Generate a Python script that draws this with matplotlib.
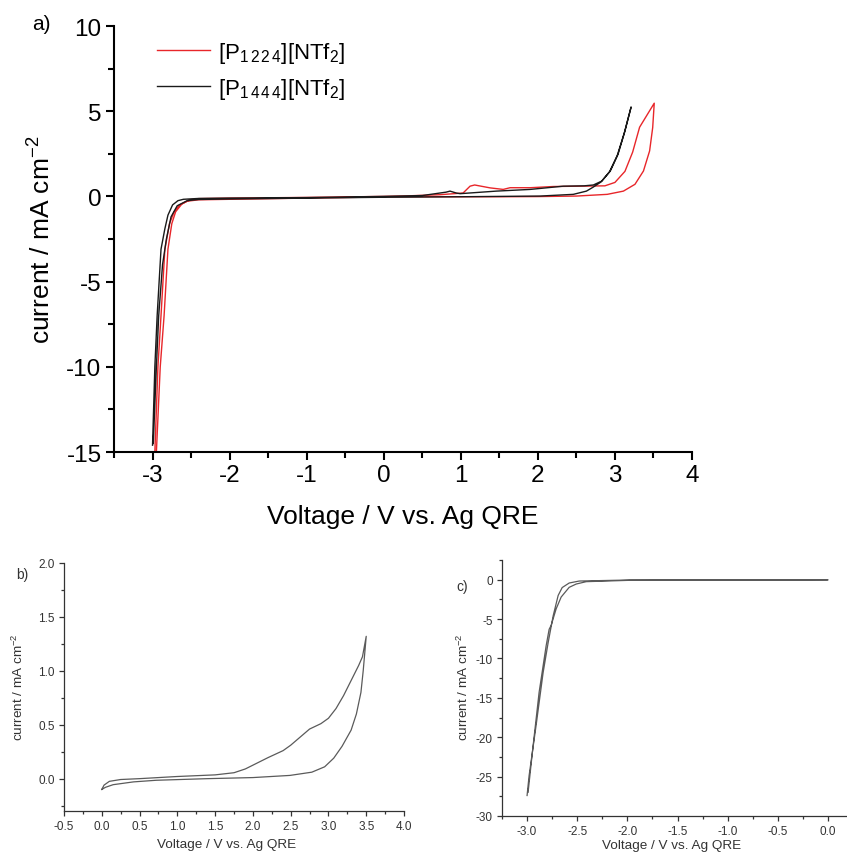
import matplotlib
matplotlib.use("Agg")
import matplotlib.pyplot as plt
from matplotlib.ticker import MultipleLocator, FormatStrFormatter

plt.rcParams['font.family'] = ['Liberation Sans', 'DejaVu Sans']
plt.rcParams['mathtext.fontset'] = 'custom'
plt.rcParams['mathtext.rm'] = 'Liberation Sans'
plt.rcParams['mathtext.it'] = 'Liberation Sans:italic'
plt.rcParams['mathtext.bf'] = 'Liberation Sans:bold'
plt.rcParams['mathtext.default'] = 'regular'
plt.rcParams['axes.unicode_minus'] = False

# ---------------- data: panel a ----------------
red_label = r'[P$_{1\,2\,2\,4}$][NTf$_2$]'
black_label = r'[P$_{1\,4\,4\,4}$][NTf$_2$]'

red_v = [-2.97, -2.93, -2.89, -2.84, -2.78, -2.72, -2.65, -2.55, -2.4, -2.0, -1.0, 0.0, 0.5,
         1.0, 1.5, 2.0, 2.5, 2.9, 3.11, 3.26, 3.37, 3.45, 3.49, 3.51,
         3.32, 3.23, 3.13, 3.0, 2.87, 2.55, 2.2, 1.9, 1.64, 1.55, 1.38, 1.18, 1.12, 1.03,
         0.73, 0.3, 0.0, -1.0, -2.0, -2.4, -2.52, -2.62, -2.7, -2.75, -2.8, -2.85, -2.9, -2.95]
red_i = [-15.0, -10.0, -7.0, -3.1, -1.6, -0.9, -0.5, -0.28, -0.2, -0.17, -0.1, -0.03, -0.02,
         -0.02, -0.02, -0.01, 0.02, 0.12, 0.31, 0.71, 1.49, 2.67, 4.04, 5.47,
         4.06, 2.6, 1.47, 0.82, 0.62, 0.6, 0.58, 0.51, 0.51, 0.41, 0.5, 0.67, 0.6, 0.2,
         0.1, 0.03, 0.0, -0.06, -0.1, -0.13, -0.2, -0.45, -0.9, -1.6, -3.1, -7.0, -10.0, -15.0]

black_v = [-3.0, -2.97, -2.94, -2.89, -2.84, -2.8, -2.74, -2.67, -2.6, -2.4, -2.0, -1.0, 0.0,
           0.5, 0.81, 0.86, 0.94, 0.99, 1.46, 1.9, 2.33, 2.6, 2.72, 2.83, 2.94, 3.04, 3.13,
           3.21, 3.12, 3.03, 2.93, 2.82, 2.72, 2.63, 2.46, 2.03, 1.5, 1.0, 0.0, -1.0, -2.0,
           -2.4, -2.55, -2.68, -2.76, -2.82, -2.87, -2.92, -2.95, -2.99]
black_i = [-14.6, -10.0, -7.0, -3.1, -1.9, -1.1, -0.5, -0.25, -0.17, -0.12, -0.1, -0.07, 0.0,
           0.05, 0.25, 0.31, 0.2, 0.16, 0.31, 0.41, 0.6, 0.62, 0.67, 0.9, 1.49, 2.47, 3.84,
           5.25, 3.7, 2.4, 1.45, 0.85, 0.55, 0.31, 0.12, 0.02, 0.0, -0.02, -0.05, -0.1, -0.15,
           -0.18, -0.25, -0.55, -1.2, -2.5, -4.0, -7.0, -10.0, -14.5]

# ---------------- data: panel b ----------------
b_v = [0.0, 0.03, 0.1, 0.25, 0.5, 1.0, 1.5, 1.75, 1.9, 2.0, 2.2, 2.4, 2.5, 2.6, 2.75, 2.9,
       3.0, 3.1, 3.2, 3.3, 3.4, 3.45, 3.5,
       3.46, 3.43, 3.37, 3.3, 3.18, 3.07, 2.95, 2.78, 2.49, 2.0, 1.4, 0.72, 0.42, 0.15, 0.05, 0.0]
b_i = [-0.1, -0.06, -0.025, -0.008, 0.0, 0.02, 0.035, 0.055, 0.09, 0.125, 0.195, 0.26, 0.31,
       0.37, 0.46, 0.51, 0.56, 0.65, 0.77, 0.91, 1.05, 1.13, 1.32,
       1.0, 0.8, 0.6, 0.45, 0.3, 0.19, 0.11, 0.06, 0.03, 0.01, 0.0, -0.015, -0.03, -0.056,
       -0.08, -0.1]

# ---------------- data: panel c ----------------
c_v = [-3.0, -2.98, -2.91, -2.84, -2.79, -2.74, -2.69, -2.65, -2.58, -2.48, -1.98, 0.0,
       -0.0, -1.98, -2.41, -2.51, -2.58, -2.66, -2.71, -2.76, -2.78, -2.81, -2.88, -2.94, -2.99]
c_i = [-27.4, -24.9, -18.5, -11.8, -8.0, -4.6, -2.0, -1.0, -0.42, -0.17, -0.04, 0.0,
       -0.04, -0.08, -0.25, -0.55, -0.97, -2.2, -3.7, -5.8, -6.3, -8.4, -14.3, -21.1, -27.0]

a_xticks = [-3, -2, -1, 0, 1, 2, 3, 4]
a_yticks = [-15, -10, -5, 0, 5, 10]

xlabel = 'Voltage / V vs. Ag QRE'
ylabel = r'current / mA cm$^{-2}$'

W, H = 847, 854
fig = plt.figure(figsize=(W / 100, H / 100), dpi=100)


def add_axes(l, t, r, b):
    return fig.add_axes([l / W, 1 - b / H, (r - l) / W, (b - t) / H])


def style(ax, lw, major_len, minor_len, fs, color):
    for s in ['top', 'right']:
        ax.spines[s].set_visible(False)
    for s in ['left', 'bottom']:
        ax.spines[s].set_linewidth(lw)
        ax.spines[s].set_color(color)
    ax.tick_params(which='major', direction='out', length=major_len, width=lw,
                   labelsize=fs, colors=color, pad=3)
    ax.tick_params(which='minor', direction='out', length=minor_len, width=lw, colors=color)


# ---------------- panel a ----------------
axa = add_axes(114, 27, 692, 453)
axa.plot(red_v, red_i, color='#e8262a', lw=1.0, label=red_label)
axa.plot(black_v, black_i, color='#1a1a1a', lw=1.0, label=black_label)
axa.set_xlim(-3.5, 4)
axa.set_ylim(-15, 10)
axa.set_xticks(a_xticks)
axa.set_yticks(a_yticks)
axa.xaxis.set_minor_locator(MultipleLocator(0.5))
axa.yaxis.set_minor_locator(MultipleLocator(2.5))
style(axa, 1.5, 6, 4, 17.5, 'black')
leg = axa.legend(loc='upper left', bbox_to_anchor=(157 / W, 1 - 41 / H),
                 bbox_transform=fig.transFigure, frameon=False, fontsize=16,
                 handlelength=2.4, handletextpad=0.35, labelspacing=0.5,
                 borderpad=0, borderaxespad=0)
for line in leg.get_lines():
    line.set_linewidth(1.0)
fig.text(41 / W, 1 - 25 / H, 'a)', fontsize=15, ha='center', va='center')
fig.text(403 / W, 1 - 517 / H, xlabel, fontsize=19, ha='center', va='center')
fig.text(42 / W, 1 - 240 / H, ylabel, fontsize=19, ha='center', va='center', rotation=90)

# ---------------- panel b ----------------
gray = '#5a5a5a'
txt = '#333333'
axb = add_axes(64, 564, 404, 812)
axb.plot(b_v, b_i, color=gray, lw=0.9)
axb.set_xlim(-0.5, 4.0)
axb.set_ylim(-0.3, 2.0)
axb.xaxis.set_major_locator(MultipleLocator(0.5))
axb.xaxis.set_minor_locator(MultipleLocator(0.25))
axb.yaxis.set_major_locator(MultipleLocator(0.5))
axb.yaxis.set_minor_locator(MultipleLocator(0.25))
axb.xaxis.set_major_formatter(FormatStrFormatter('%.1f'))
axb.yaxis.set_major_formatter(FormatStrFormatter('%.1f'))
style(axb, 0.9, 3.5, 2, 8.5, txt)
fig.text(22 / W, 1 - 575 / H, 'b)', fontsize=10, ha='center', va='center', color=txt)
fig.text(227 / W, 1 - 845 / H, xlabel, fontsize=9.7, ha='center', va='center', color=txt)
fig.text(18 / W, 1 - 687 / H, ylabel, fontsize=9.7, ha='center', va='center',
         rotation=90, color=txt)

# ---------------- panel c ----------------
axc = add_axes(502, 561, 848, 817)
axc.plot(c_v, c_i, color=gray, lw=0.9)
axc.set_xlim(-3.25, 0.2)
axc.set_ylim(-30, 2.5)
axc.xaxis.set_major_locator(MultipleLocator(0.5))
axc.xaxis.set_minor_locator(MultipleLocator(0.25))
axc.yaxis.set_major_locator(MultipleLocator(5))
axc.yaxis.set_minor_locator(MultipleLocator(2.5))
axc.xaxis.set_major_formatter(FormatStrFormatter('%.1f'))
style(axc, 0.9, 3.5, 2, 8.5, txt)
fig.text(462 / W, 1 - 587 / H, 'c)', fontsize=10, ha='center', va='center', color=txt)
fig.text(672 / W, 1 - 846 / H, xlabel, fontsize=9.7, ha='center', va='center', color=txt)
fig.text(463 / W, 1 - 687 / H, ylabel, fontsize=9.7, ha='center', va='center',
         rotation=90, color=txt)

fig.savefig('out.png', dpi=100)
